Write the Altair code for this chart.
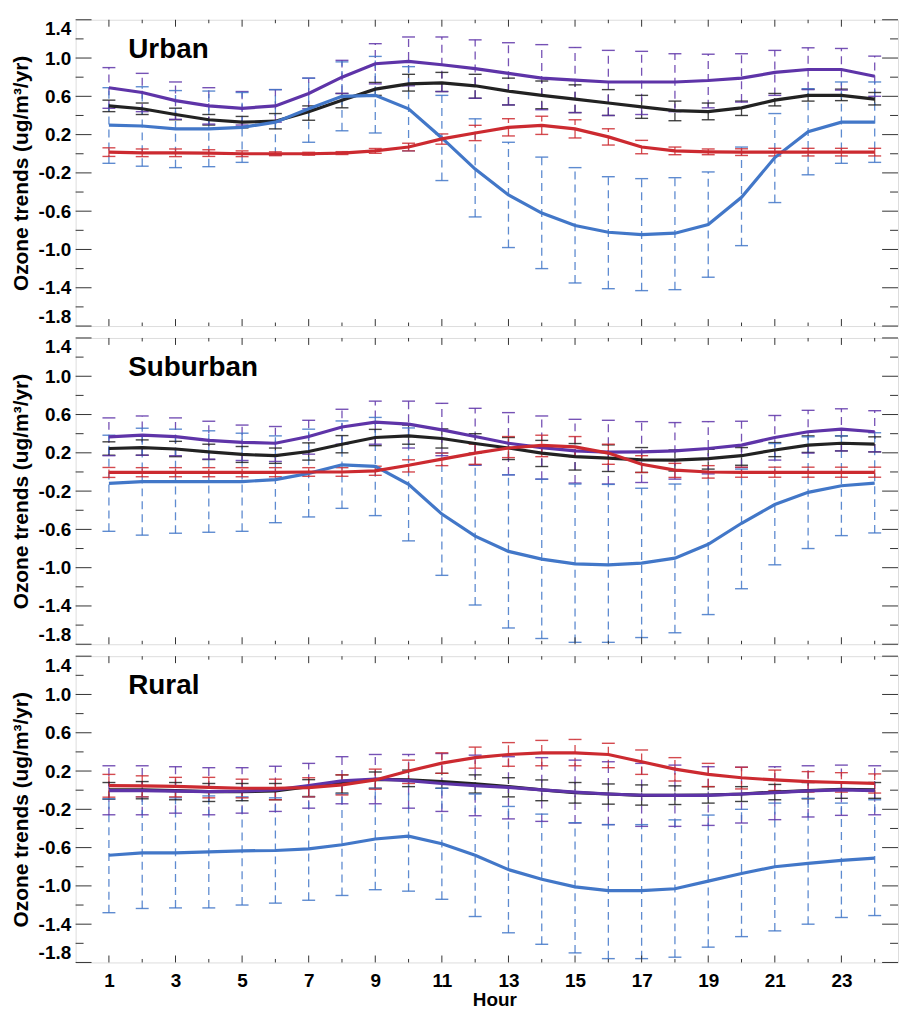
import altair as alt
import pandas as pd

HOURS = list(range(1, 25))
ODD_HOURS = list(range(1, 25, 2))
EVEN_HOURS = list(range(2, 25, 2))
Y_LABELS = [-1.8, -1.4, -1.0, -0.6, -0.2, 0.2, 0.6, 1.0, 1.4]
Y_MINOR = [-1.6, -1.2, -0.8, -0.4, 0.0, 0.4, 0.8, 1.2]
PANELS = ["Urban", "Suburban", "Rural"]
SERIES = ["black", "purple", "blue", "red"]
LINE_COLORS = ["#000000", "#48218e", "#3461ae", "#c0121a"]
ERR_COLORS = ["#222222", "#5e34a8", "#4277c8", "#cc2a30"]

# ---- Urban ----
U_purple = [0.69, 0.64, 0.555, 0.50, 0.475, 0.50, 0.63, 0.80, 0.94, 0.965, 0.93, 0.89, 0.84, 0.79, 0.77, 0.75, 0.75, 0.75, 0.765, 0.79, 0.85, 0.88, 0.88, 0.81]
U_purple_lo = [0.475, 0.44, 0.36, 0.31, 0.30, 0.33, 0.47, 0.63, 0.73, 0.71, 0.65, 0.58, 0.51, 0.46, 0.43, 0.40, 0.41, 0.44, 0.48, 0.54, 0.61, 0.67, 0.665, 0.60]
U_purple_hi = [0.90, 0.84, 0.75, 0.69, 0.65, 0.67, 0.79, 0.976, 1.15, 1.22, 1.22, 1.19, 1.16, 1.14, 1.11, 1.08, 1.07, 1.045, 1.04, 1.045, 1.08, 1.107, 1.10, 1.02]
U_black = [0.50, 0.47, 0.41, 0.355, 0.33, 0.34, 0.44, 0.56, 0.675, 0.73, 0.74, 0.71, 0.655, 0.61, 0.57, 0.53, 0.49, 0.45, 0.44, 0.48, 0.56, 0.61, 0.61, 0.57]
U_black_lo = [0.44, 0.41, 0.355, 0.30, 0.27, 0.26, 0.35, 0.48, 0.61, 0.655, 0.65, 0.58, 0.51, 0.47, 0.43, 0.40, 0.37, 0.345, 0.355, 0.40, 0.50, 0.55, 0.555, 0.51]
U_black_hi = [0.56, 0.53, 0.476, 0.41, 0.39, 0.42, 0.50, 0.63, 0.745, 0.83, 0.85, 0.83, 0.79, 0.76, 0.72, 0.67, 0.61, 0.55, 0.53, 0.55, 0.63, 0.675, 0.675, 0.64]
U_blue = [0.30, 0.29, 0.26, 0.26, 0.275, 0.33, 0.47, 0.60, 0.61, 0.47, 0.165, -0.16, -0.43, -0.62, -0.75, -0.82, -0.845, -0.83, -0.74, -0.455, -0.04, 0.23, 0.33, 0.33]
U_blue_lo = [-0.10, -0.13, -0.145, -0.135, -0.09, -0.014, 0.12, 0.24, 0.217, 0.03, -0.28, -0.66, -0.98, -1.20, -1.35, -1.41, -1.43, -1.42, -1.29, -0.96, -0.51, -0.22, -0.10, -0.09]
U_blue_hi = [0.69, 0.70, 0.66, 0.655, 0.64, 0.67, 0.79, 0.96, 1.017, 0.91, 0.61, 0.365, 0.12, -0.035, -0.145, -0.24, -0.26, -0.25, -0.19, 0.07, 0.42, 0.68, 0.75, 0.75]
U_red = [0.017, 0.01, 0.01, 0.007, 0.0, 0.0, 0.0, 0.007, 0.03, 0.07, 0.155, 0.217, 0.276, 0.297, 0.26, 0.176, 0.07, 0.03, 0.02, 0.017, 0.017, 0.017, 0.017, 0.017]
U_red_lo = [-0.028, -0.03, -0.03, -0.028, -0.03, -0.02, -0.015, -0.008, 0.005, 0.03, 0.10, 0.137, 0.186, 0.202, 0.165, 0.091, 0.0, -0.01, -0.01, -0.018, -0.023, -0.023, -0.023, -0.023]
U_red_hi = [0.062, 0.05, 0.05, 0.042, 0.03, 0.02, 0.015, 0.022, 0.055, 0.11, 0.207, 0.297, 0.366, 0.392, 0.355, 0.261, 0.14, 0.07, 0.05, 0.052, 0.057, 0.057, 0.057, 0.057]

# ---- Suburban ----
S_purple = [0.367, 0.384, 0.37, 0.33, 0.31, 0.30, 0.37, 0.47, 0.52, 0.50, 0.44, 0.37, 0.30, 0.255, 0.22, 0.207, 0.21, 0.22, 0.245, 0.28, 0.36, 0.42, 0.447, 0.42]
S_purple_lo = [0.17, 0.175, 0.17, 0.134, 0.12, 0.11, 0.186, 0.29, 0.29, 0.25, 0.17, 0.07, -0.03, -0.075, -0.116, -0.126, -0.11, -0.075, -0.02, 0.047, 0.124, 0.197, 0.22, 0.21]
S_purple_hi = [0.565, 0.585, 0.565, 0.53, 0.49, 0.475, 0.54, 0.655, 0.74, 0.74, 0.717, 0.665, 0.62, 0.585, 0.55, 0.54, 0.526, 0.516, 0.526, 0.53, 0.59, 0.644, 0.66, 0.64]
S_black = [0.245, 0.255, 0.24, 0.21, 0.183, 0.17, 0.214, 0.29, 0.36, 0.377, 0.35, 0.297, 0.25, 0.197, 0.16, 0.145, 0.127, 0.124, 0.14, 0.17, 0.23, 0.28, 0.30, 0.29]
S_black_lo = [0.175, 0.175, 0.16, 0.13, 0.10, 0.09, 0.124, 0.20, 0.275, 0.29, 0.25, 0.197, 0.13, 0.057, 0.02, 0.005, -0.005, 0.01, 0.03, 0.07, 0.16, 0.204, 0.22, 0.21]
S_black_hi = [0.315, 0.335, 0.32, 0.29, 0.266, 0.25, 0.304, 0.38, 0.445, 0.49, 0.45, 0.40, 0.36, 0.33, 0.297, 0.283, 0.255, 0.23, 0.237, 0.255, 0.307, 0.377, 0.377, 0.367]
S_blue = [-0.12, -0.10, -0.10, -0.10, -0.10, -0.08, -0.015, 0.075, 0.058, -0.13, -0.44, -0.67, -0.83, -0.91, -0.96, -0.97, -0.953, -0.90, -0.755, -0.536, -0.34, -0.213, -0.144, -0.116]
S_blue_lo = [-0.62, -0.66, -0.64, -0.63, -0.62, -0.53, -0.47, -0.38, -0.456, -0.72, -1.08, -1.39, -1.63, -1.74, -1.78, -1.78, -1.73, -1.68, -1.49, -1.22, -0.97, -0.80, -0.665, -0.637]
S_blue_hi = [0.384, 0.457, 0.447, 0.43, 0.405, 0.377, 0.447, 0.533, 0.57, 0.46, 0.20, 0.075, -0.03, -0.075, -0.126, -0.13, -0.17, -0.126, -0.005, 0.03, 0.297, 0.367, 0.377, 0.41]
S_red = [-0.005, -0.005, -0.005, -0.005, -0.005, -0.005, 0.0, 0.0, 0.012, 0.07, 0.134, 0.197, 0.25, 0.277, 0.262, 0.197, 0.08, 0.02, 0.0, -0.005, -0.005, -0.005, -0.005, -0.005]
S_red_lo = [-0.057, -0.05, -0.05, -0.05, -0.05, -0.05, -0.045, -0.045, -0.035, 0.0, 0.066, 0.08, 0.15, 0.16, 0.16, 0.08, -0.005, -0.057, -0.064, -0.055, -0.055, -0.055, -0.055, -0.055]
S_red_hi = [0.047, 0.045, 0.045, 0.045, 0.045, 0.045, 0.045, 0.045, 0.06, 0.127, 0.197, 0.29, 0.37, 0.384, 0.37, 0.29, 0.17, 0.09, 0.066, 0.05, 0.05, 0.05, 0.05, 0.05]

# ---- Rural ----
R_purple = [-0.004, -0.004, -0.01, -0.015, -0.01, 0.003, 0.048, 0.097, 0.117, 0.10, 0.07, 0.048, 0.03, 0.003, -0.02, -0.04, -0.053, -0.055, -0.055, -0.04, -0.025, -0.008, 0.003, -0.004]
R_purple_lo = [-0.257, -0.257, -0.24, -0.257, -0.24, -0.222, -0.188, -0.142, -0.142, -0.188, -0.222, -0.267, -0.30, -0.326, -0.343, -0.36, -0.378, -0.378, -0.368, -0.343, -0.308, -0.28, -0.263, -0.257]
R_purple_hi = [0.255, 0.255, 0.245, 0.235, 0.235, 0.25, 0.28, 0.35, 0.373, 0.373, 0.383, 0.366, 0.35, 0.34, 0.314, 0.297, 0.28, 0.262, 0.245, 0.24, 0.245, 0.255, 0.262, 0.255]
R_black = [0.003, 0.003, -0.004, -0.015, -0.015, -0.008, 0.037, 0.08, 0.113, 0.107, 0.09, 0.065, 0.037, 0.003, -0.025, -0.04, -0.055, -0.055, -0.05, -0.04, -0.02, -0.004, 0.01, 0.003]
R_black_lo = [-0.094, -0.09, -0.10, -0.118, -0.11, -0.10, -0.066, -0.03, 0.02, 0.037, 0.02, -0.03, -0.07, -0.11, -0.135, -0.146, -0.156, -0.15, -0.135, -0.118, -0.10, -0.09, -0.085, -0.085]
R_black_hi = [0.08, 0.09, 0.08, 0.07, 0.07, 0.07, 0.11, 0.16, 0.19, 0.21, 0.176, 0.16, 0.13, 0.107, 0.08, 0.065, 0.055, 0.045, 0.037, 0.037, 0.06, 0.08, 0.08, 0.08]
R_blue = [-0.68, -0.655, -0.655, -0.645, -0.634, -0.63, -0.613, -0.57, -0.51, -0.48, -0.56, -0.68, -0.83, -0.93, -1.01, -1.05, -1.05, -1.03, -0.95, -0.87, -0.80, -0.765, -0.734, -0.71]
R_blue_lo = [-1.28, -1.236, -1.23, -1.23, -1.20, -1.18, -1.15, -1.10, -1.04, -1.055, -1.14, -1.32, -1.49, -1.61, -1.70, -1.76, -1.76, -1.745, -1.64, -1.53, -1.47, -1.40, -1.33, -1.31]
R_blue_hi = [-0.09, -0.07, -0.08, -0.06, -0.07, -0.08, -0.07, -0.04, 0.02, 0.09, 0.02, -0.04, -0.17, -0.25, -0.34, -0.36, -0.36, -0.31, -0.26, -0.20, -0.135, -0.085, -0.135, -0.10]
R_red = [0.048, 0.045, 0.04, 0.03, 0.02, 0.02, 0.027, 0.055, 0.107, 0.20, 0.283, 0.34, 0.373, 0.39, 0.39, 0.373, 0.297, 0.22, 0.165, 0.13, 0.107, 0.09, 0.08, 0.072]
R_red_lo = [-0.073, -0.07, -0.07, -0.08, -0.08, -0.10, -0.07, -0.05, 0.01, 0.07, 0.176, 0.23, 0.25, 0.255, 0.255, 0.235, 0.165, 0.096, 0.037, 0.013, -0.004, -0.02, -0.02, -0.03]
R_red_hi = [0.165, 0.15, 0.134, 0.134, 0.115, 0.115, 0.13, 0.16, 0.22, 0.314, 0.39, 0.45, 0.497, 0.52, 0.53, 0.49, 0.42, 0.34, 0.28, 0.24, 0.21, 0.194, 0.183, 0.17]

DATA = {
    "Urban": {
        "black": (U_black, U_black_lo, U_black_hi),
        "purple": (U_purple, U_purple_lo, U_purple_hi),
        "blue": (U_blue, U_blue_lo, U_blue_hi),
        "red": (U_red, U_red_lo, U_red_hi),
    },
    "Suburban": {
        "black": (S_black, S_black_lo, S_black_hi),
        "purple": (S_purple, S_purple_lo, S_purple_hi),
        "blue": (S_blue, S_blue_lo, S_blue_hi),
        "red": (S_red, S_red_lo, S_red_hi),
    },
    "Rural": {
        "black": (R_black, R_black_lo, R_black_hi),
        "purple": (R_purple, R_purple_lo, R_purple_hi),
        "blue": (R_blue, R_blue_lo, R_blue_hi),
        "red": (R_red, R_red_lo, R_red_hi),
    },
}

rows = []
for p in PANELS:
    for si, s in enumerate(SERIES):
        v, lo, hi = DATA[p][s]
        for i, h in enumerate(HOURS):
            rows.append({"panel": p, "series": s, "order": si, "hour": h,
                         "value": v[i], "lo": lo[i], "hi": hi[i]})
df = pd.DataFrame(rows)

FONT = "Liberation Sans"
FRAME = "#333333"
W = 827
H = 308
XDOM = [0, 24.7]
YDOM = [-1.8, 1.4]

xscale = alt.Scale(domain=XDOM, nice=False, zero=False)
yscale = alt.Scale(domain=YDOM, nice=False, zero=False)
line_color = alt.Color("series:N", scale=alt.Scale(domain=SERIES, range=LINE_COLORS), legend=None)
err_color = alt.Color("series:N", scale=alt.Scale(domain=SERIES, range=ERR_COLORS), legend=None)

label_expr = "replace(format(datum.value, '.1f'), '\u2212', '-')"


def make_xaxis(show_x):
    if not show_x:
        return None
    return alt.Axis(values=ODD_HOURS, title="Hour", ticks=False, tickSize=0, domain=False,
                    grid=False, labelFont=FONT, labelFontSize=19, labelFontWeight="bold",
                    labelColor="black", labelPadding=9, titleFont=FONT, titleFontSize=19,
                    titleFontWeight="bold", titleColor="black", titlePadding=0,
                    titleX=421, titleAnchor="start", titleAlign="center")


YAXIS = alt.Axis(values=Y_LABELS, labelExpr=label_expr, title="Ozone trends (ug/m\u00b3/yr)",
                 ticks=False, tickSize=0, domain=False, grid=False, labelFlush=True,
                 labelPadding=5, labelFont=FONT, labelFontSize=19, labelFontWeight="bold",
                 labelColor="black", titleFont=FONT, titleFontSize=21, titleFontWeight="bold",
                 titleColor="black", titlePadding=7)


def panel(name, show_x):
    d = df[df["panel"] == name]
    base = alt.Chart(d)
    xaxis = make_xaxis(show_x)

    def X(field):
        return alt.X(field, scale=xscale, axis=xaxis)

    def Y(field):
        return alt.Y(field, scale=yscale, axis=YAXIS)

    bars = base.mark_rule(strokeDash=[8, 5], strokeWidth=1.3, opacity=0.85).encode(
        x=X("hour:Q"), y=Y("lo:Q"), y2="hi:Q", color=err_color, detail="series:N",
    )
    caps = base.transform_fold(["lo", "hi"], as_=["kind", "cap"]).mark_rule(
        strokeWidth=1.4, opacity=0.85, xOffset=-6.5, x2Offset=6.5
    ).encode(
        x=X("hour:Q"), x2="hour:Q", y=Y("cap:Q"), color=err_color,
    )
    lines = base.mark_line(strokeWidth=3.2).encode(
        x=X("hour:Q"), y=Y("value:Q"), color=line_color, order="hour:Q", detail="series:N",
    )

    xmaj = alt.Chart(pd.DataFrame({"hour": ODD_HOURS}))
    xmin = alt.Chart(pd.DataFrame({"hour": EVEN_HOURS}))
    ymaj = alt.Chart(pd.DataFrame({"v": Y_LABELS}))
    ymin = alt.Chart(pd.DataFrame({"v": Y_MINOR}))
    tx = X("hour:Q")
    ty = Y("v:Q")
    tick_layers = [
        xmaj.mark_rule(color=FRAME, strokeWidth=1).encode(x=tx, y=alt.value(0), y2=alt.value(7)),
        xmaj.mark_rule(color=FRAME, strokeWidth=1).encode(x=tx, y=alt.value(H), y2=alt.value(H - 7)),
        xmin.mark_rule(color=FRAME, strokeWidth=1).encode(x=tx, y=alt.value(0), y2=alt.value(3.5)),
        xmin.mark_rule(color=FRAME, strokeWidth=1).encode(x=tx, y=alt.value(H), y2=alt.value(H - 3.5)),
        ymaj.mark_rule(color=FRAME, strokeWidth=1).encode(y=ty, x=alt.value(0), x2=alt.value(16)),
        ymaj.mark_rule(color=FRAME, strokeWidth=1).encode(y=ty, x=alt.value(W), x2=alt.value(W - 16)),
        ymin.mark_rule(color=FRAME, strokeWidth=1).encode(y=ty, x=alt.value(0), x2=alt.value(8)),
        ymin.mark_rule(color=FRAME, strokeWidth=1).encode(y=ty, x=alt.value(W), x2=alt.value(W - 8)),
    ]

    label = alt.Chart(pd.DataFrame({"label": [name], "lx": [1.58], "ly": [1.0]})).mark_text(
        align="left", baseline="alphabetic", font=FONT, fontSize=28, fontWeight="bold", color="black"
    ).encode(
        x=X("lx:Q"), y=Y("ly:Q"), text="label:N",
    )

    return alt.layer(bars, caps, lines, *tick_layers, label).properties(width=W, height=H)


chart = alt.vconcat(
    panel("Urban", False), panel("Suburban", False), panel("Rural", True), spacing=10
).properties(
    padding={"left": 1, "top": 8, "right": 0, "bottom": 0}
).configure_view(
    stroke=FRAME, strokeWidth=1.3
).configure(
    background="white"
)

chart.save("out.html", embed_options={"renderer": "svg", "actions": False})
